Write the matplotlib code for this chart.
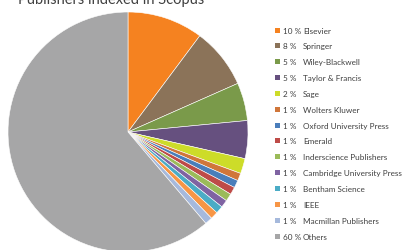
import matplotlib.pyplot as plt
from matplotlib.patches import Rectangle

plt.rcParams['font.family'] = ['Lato', 'DejaVu Sans']

publishers = ['Elsevier', 'Springer', 'Wiley-Blackwell', 'Taylor & Francis', 'Sage',
              'Wolters Kluwer', 'Oxford University Press', 'Emerald',
              'Inderscience Publishers', 'Cambridge University Press',
              'Bentham Science', 'IEEE', 'Macmillan Publishers', 'Others']
shares = [10, 8, 5, 5, 2, 1, 1, 1, 1, 1, 1, 1, 1, 60]
colors = ['#F58220', '#8B7359', '#7A9A4A', '#66507F', '#CDDC29', '#D0763A',
          '#4A7EBB', '#BE4B48', '#9BBB59', '#7F63A2', '#4BACC6', '#F79646',
          '#A6B9DC', '#A6A6A7']

W, H = 405, 251
fig = plt.figure(figsize=(W / 100, H / 100), dpi=100)

# pie: centre (128, 133) from top, radius ~120 px
cx, cy, r = 128, H - 133, 120
ax = fig.add_axes([(cx - r) / W, (cy - r) / H, 2 * r / W, 2 * r / H])
ax.pie(shares, colors=colors, startangle=90, counterclock=False, radius=1,
       wedgeprops=dict(edgecolor='white', linewidth=0.4))
ax.set_xlim(-1, 1)
ax.set_ylim(-1, 1)
ax.set_aspect('equal')
ax.axis('off')

# title is clipped at the top edge in the original as well
fig.text(18 / W, (H - 4) / H, 'Publishers indexed in Scopus', fontsize=10.5,
         color='#404040', va='baseline', ha='left')

# legend
y0, dy = 31, 15.85
for i, (name, s, c) in enumerate(zip(publishers, shares, colors)):
    y = H - (y0 + i * dy)
    fig.patches.append(Rectangle((275 / W, (y - 2.5) / H), 5 / W, 5 / H,
                                 transform=fig.transFigure, facecolor=c,
                                 edgecolor='none'))
    fig.text(283 / W, y / H, f'{s} %', fontsize=5.9, color='#404040',
             va='center', ha='left')
    fig.text(303 / W, y / H, name, fontsize=5.9, color='#404040',
             va='center', ha='left')

fig.savefig('out.png', dpi=100)
